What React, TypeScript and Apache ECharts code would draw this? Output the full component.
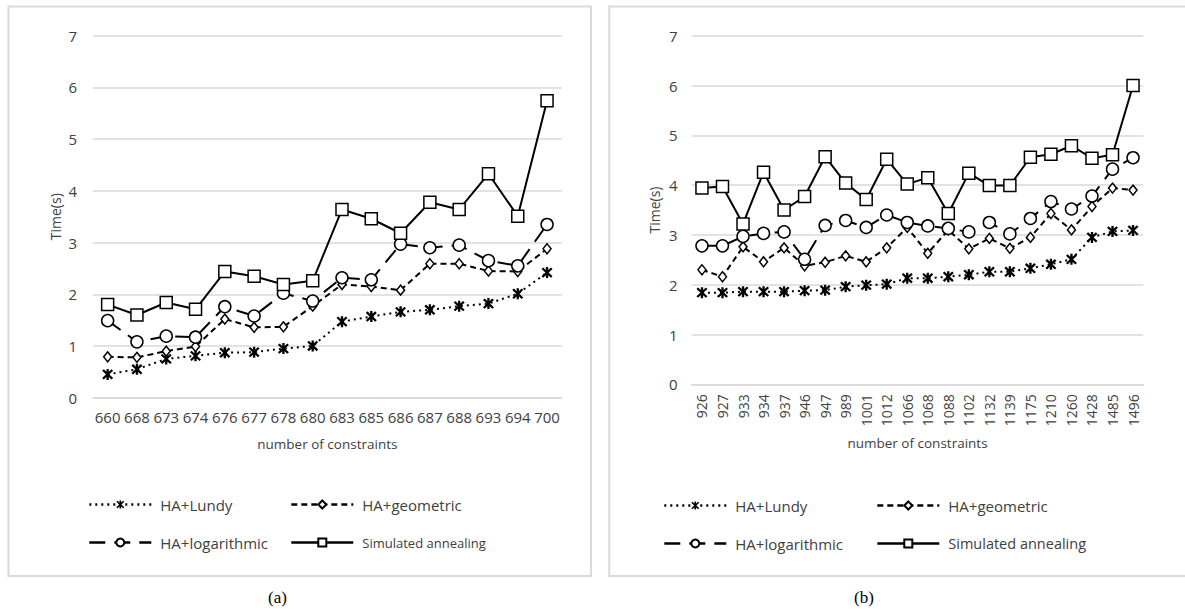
import React, { useEffect, useRef } from 'react';
import * as echarts from 'echarts';

const catsA = ['660', '668', '673', '674', '676', '677', '678', '680', '683', '685', '686', '687', '688', '693', '694', '700'];
const lundyA = [0.45, 0.55, 0.75, 0.81, 0.87, 0.88, 0.95, 1.0, 1.47, 1.57, 1.66, 1.7, 1.77, 1.82, 2.01, 2.42];
const geoA = [0.79, 0.78, 0.9, 0.99, 1.52, 1.36, 1.37, 1.77, 2.19, 2.15, 2.08, 2.59, 2.59, 2.45, 2.44, 2.88];
const logA = [1.49, 1.08, 1.19, 1.17, 1.76, 1.58, 2.02, 1.87, 2.32, 2.28, 2.97, 2.9, 2.95, 2.65, 2.55, 3.35];
const saA = [1.8, 1.6, 1.84, 1.71, 2.44, 2.35, 2.19, 2.26, 3.64, 3.46, 3.18, 3.78, 3.64, 4.33, 3.51, 5.74];

const catsB = ['926', '927', '933', '934', '937', '946', '947', '989', '1001', '1012', '1066', '1068', '1088', '1102', '1132', '1139', '1175', '1210', '1260', '1428', '1485', '1496'];
const lundyB = [1.84, 1.84, 1.86, 1.86, 1.86, 1.88, 1.89, 1.96, 1.99, 2.01, 2.13, 2.13, 2.16, 2.2, 2.26, 2.26, 2.33, 2.41, 2.51, 2.95, 3.07, 3.09];
const geoB = [2.3, 2.16, 2.76, 2.46, 2.74, 2.38, 2.45, 2.58, 2.46, 2.74, 3.15, 2.63, 3.1, 2.72, 2.93, 2.73, 2.95, 3.43, 3.1, 3.57, 3.94, 3.9];
const logB = [2.78, 2.78, 2.97, 3.03, 3.06, 2.51, 3.19, 3.29, 3.15, 3.4, 3.25, 3.18, 3.13, 3.06, 3.25, 3.02, 3.33, 3.67, 3.52, 3.78, 4.32, 4.55];
const saB = [3.94, 3.97, 3.22, 4.26, 3.5, 3.77, 4.57, 4.04, 3.71, 4.52, 4.02, 4.15, 3.43, 4.24, 3.99, 3.99, 4.56, 4.62, 4.79, 4.54, 4.61, 6.0];

const NAMES = ['HA+Lundy', 'HA+geometric', 'HA+logarithmic', 'Simulated annealing'];
const Y_TICKS_MAX = 7;

const ASTERISK =
  'path://M4,0L6,0L6,10L4,10Z' +
  'M1.7,0.3L9.7,8.3L8.3,9.7L0.3,1.7Z' +
  'M8.3,0.3L9.7,1.7L1.7,9.7L0.3,8.3Z';

const FONT = 'Open Sans';
const GRAY = '#d9d9d9';
const LABEL = '#404040';

function styleFor(i: number) {
  const base = { color: '#000', width: 2 };
  if (i === 0) return { symbol: ASTERISK, symbolSize: 11, lineStyle: { ...base, type: [2, 4] }, itemStyle: { color: '#000', borderColor: '#000', borderWidth: 0 } };
  if (i === 1) return { symbol: 'diamond', symbolSize: [8, 10], lineStyle: { ...base, type: [6, 4] }, itemStyle: { color: '#fff', borderColor: '#000', borderWidth: 1.5 } };
  if (i === 2) return { symbol: 'circle', symbolSize: 12, lineStyle: { ...base, type: [16, 9] }, itemStyle: { color: '#fff', borderColor: '#000', borderWidth: 1.5 } };
  return { symbol: 'rect', symbolSize: 12, lineStyle: { ...base, type: 'solid' }, itemStyle: { color: '#fff', borderColor: '#000', borderWidth: 1.5 } };
}

export default function App() {
  const ref = useRef<HTMLDivElement>(null);
  useEffect(() => {
    if (!ref.current) return;
    const chart = echarts.init(ref.current, null, { renderer: 'svg' });
    const dataA = [lundyA, geoA, logA, saA];
    const dataB = [lundyB, geoB, logB, saB];
    const series: any[] = [];
    [dataA, dataB].forEach((set, gi) => {
      set.forEach((d, i) => {
        series.push({
          type: 'line',
          name: NAMES[i],
          xAxisIndex: gi,
          yAxisIndex: gi,
          data: d,
          ...styleFor(i),
          z: 2 + i,
          showAllSymbol: true,
        });
      });
    });
    const yAxisCommon = (nameGap: number, labelMargin: number) => ({
      type: 'value',
      min: 0,
      max: Y_TICKS_MAX,
      interval: 1,
      name: 'Time(s)',
      nameLocation: 'middle',
      nameGap,
      nameTextStyle: { fontFamily: FONT, fontSize: 14, color: LABEL },
      axisLine: { show: false },
      axisTick: { show: false },
      axisLabel: { fontFamily: FONT, fontSize: 15, color: LABEL, margin: labelMargin },
      splitLine: { lineStyle: { color: GRAY, width: 1.5 } },
    });
    const legendItem = (name: string, left: number, top: number, fontSize: number) => ({
      data: [name],
      left,
      top,
      padding: 0,
      itemWidth: 62,
      itemHeight: 10,
      selectedMode: false,
      lineStyle: { width: 2.6 },
      textStyle: { fontFamily: FONT, fontSize, color: LABEL, padding: [0, 0, 0, 4] },
    });
    chart.setOption({
      animation: false,
      backgroundColor: '#fff',
      grid: [
        { left: 93, right: 623.3, top: 35.7, bottom: 211.3 },
        { left: 691.7, right: 41.7, top: 35.7, bottom: 224.7 },
      ],
      xAxis: [
        {
          type: 'category',
          gridIndex: 0,
          data: catsA,
          name: 'number of constraints',
          nameLocation: 'middle',
          nameGap: 39,
          nameTextStyle: { fontFamily: FONT, fontSize: 13.5, color: LABEL },
          axisLine: { lineStyle: { color: GRAY, width: 1.5 } },
          axisTick: { show: false },
          axisLabel: { fontFamily: FONT, fontSize: 15, color: LABEL, margin: 12, interval: 0 },
        },
        {
          type: 'category',
          gridIndex: 1,
          data: catsB,
          name: 'number of constraints',
          nameLocation: 'middle',
          nameGap: 52,
          nameTextStyle: { fontFamily: FONT, fontSize: 13.5, color: LABEL },
          axisLine: { lineStyle: { color: GRAY, width: 1.5 } },
          axisTick: { show: false },
          axisLabel: { fontFamily: FONT, fontSize: 14, color: LABEL, margin: 10, interval: 0, rotate: 90 },
        },
      ],
      yAxis: [
        { ...yAxisCommon(31, 16), gridIndex: 0 },
        { ...yAxisCommon(30, 14), gridIndex: 1 },
      ],
      legend: [
        legendItem(NAMES[0], 88, 497, 15),
        legendItem(NAMES[1], 290, 497, 15),
        legendItem(NAMES[2], 88, 535, 15),
        legendItem(NAMES[3], 290, 536, 13),
        legendItem(NAMES[0], 663, 498, 15),
        legendItem(NAMES[1], 876, 498, 15),
        legendItem(NAMES[2], 663, 536, 15),
        legendItem(NAMES[3], 876, 536, 14.5),
      ],
      graphic: [
        { type: 'rect', shape: { x: 8.5, y: 6.5, width: 582.5, height: 569.5 }, style: { fill: 'none', stroke: GRAY, lineWidth: 2 }, silent: true },
        { type: 'rect', shape: { x: 609.3, y: 6.5, width: 590, height: 569.5 }, style: { fill: 'none', stroke: GRAY, lineWidth: 2 }, silent: true },
        { type: 'text', x: 277.5, y: 597, style: { text: '(a)', fontFamily: 'Liberation Serif', fontSize: 17, fill: '#000', align: 'center', verticalAlign: 'middle' } },
        { type: 'text', x: 864, y: 597, style: { text: '(b)', fontFamily: 'Liberation Serif', fontSize: 17, fill: '#000', align: 'center', verticalAlign: 'middle' } },
      ],
      series,
    });
    return () => chart.dispose();
  }, []);
  return <div ref={ref} style={{ position: 'absolute', left: 0, top: 0, width: 1185, height: 609, background: '#fff' }} />;
}
